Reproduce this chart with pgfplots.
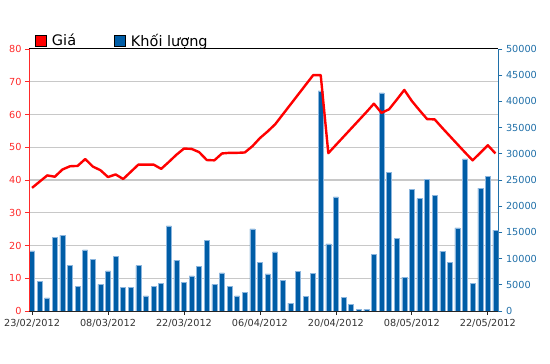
\documentclass[border=0pt]{standalone}
\usepackage{pgfplots}
\pgfplotsset{compat=1.18}
\usepackage{fontspec}
\setmainfont{DejaVu Sans}
\definecolor{barblue}{HTML}{005DA6}
\definecolor{baredge}{HTML}{8CB6DE}
\definecolor{axblue}{HTML}{1F6FA8}
\definecolor{axred}{HTML}{FF2A2A}
\definecolor{gridgray}{HTML}{C8C8C8}
\pgfplotsset{
  common/.style={
    at={(29pt,53pt)}, anchor=south west,
    scale only axis, width=469.5pt, height=262pt,
    xmin=-0.4, xmax=61.4,
    /pgf/number format/assume math mode=true,
    /pgf/number format/1000 sep={},
    scaled y ticks=false,
    tick label style={font=\fontsize{9.7}{11}\selectfont},
    tick align=outside,
    major tick length=4pt,
  }
}
\begin{document}
\begin{tikzpicture}
\useasboundingbox (0,0) rectangle (550pt,364pt);
% volume bars (right axis)
\begin{axis}[common,
  ymin=0, ymax=50000,
  axis y line*=right, axis x line*=bottom,
  ytick={0,5000,...,50000},
  yticklabel style={text=axblue},
  y axis line style={axblue, line width=0.8pt},
  ytick style={axblue, line width=0.8pt},
  xtick={0,10,...,60},
  xticklabels={23/02/2012,08/03/2012,22/03/2012,06/04/2012,20/04/2012,08/05/2012,22/05/2012},
  xticklabel style={text=black!80, yshift=-1pt},
  x axis line style={black!85, line width=0.8pt},
  xtick style={black!85, line width=0.8pt},
  extra y ticks={6250,12500,18750,25000,31250,37500,43750},
  extra y tick labels={},
  extra y tick style={grid=major, major tick length=0pt, major grid style={gridgray, line width=1.2pt}},
]
\addplot[ybar, bar width=5pt, bar shift=0pt, fill=barblue, draw=baredge, line width=0.5pt] coordinates {
(0,11480) (1,5676) (2,2490) (3,14094) (4,14477) (5,8673) (6,4719) (7,11671) (8,9885) (9,5102)
(10,7653) (11,10459) (12,4464) (13,4464) (14,8673) (15,2870) (16,4719) (17,5293) (18,16263) (19,9694)
(20,5485) (21,6696) (22,8546) (23,13520) (24,5102) (25,7270) (26,4719) (27,2870) (28,3508) (29,15689)
(30,9311) (31,7079) (32,11288) (33,5880) (34,1500) (35,7620) (36,2860) (37,7240) (38,42000) (39,12830)
(40,21800) (41,2670) (42,1270) (43,320) (44,320) (45,10860) (46,41650) (47,26400) (48,13800) (49,6450)
(50,23200) (51,21460) (52,25100) (53,22000) (54,11430) (55,9270) (56,15840) (57,29050) (58,5270) (59,23430)
(60,25670) (61,15430)
};
\end{axis}
% price line (left axis)
\begin{axis}[common,
  ymin=0, ymax=80,
  axis y line*=left, axis x line*=top,
  xtick=\empty,
  x axis line style={black, line width=1pt},
  ytick={0,10,...,80},
  yticklabel style={text=axred},
  y axis line style={axred, line width=0.9pt},
  ytick style={axred, line width=0.8pt},
  legend style={at={(0,1)}, anchor=south west, xshift=5pt, yshift=-2pt, draw=none, fill=none,
    legend columns=2, font=\fontsize{14.5}{16}\selectfont, inner sep=1pt,
    /tikz/every odd column/.append style={column sep=3pt},
    /tikz/every even column/.append style={column sep=36pt}},
  legend image code/.code={\draw[draw=black, line width=0.8pt, #1] (0pt,-5.5pt) rectangle (11pt,5.5pt);},
]
\addlegendimage{fill=red}
\addlegendentry{Giá}
\addlegendimage{fill=barblue}
\addlegendentry{Khối lượng}
\addplot[red, line width=2.4pt, line join=round, forget plot] coordinates {
(0,37.6) (1,39.5) (2,41.4) (3,41.0) (4,43.2) (5,44.2) (6,44.3) (7,46.4) (8,44.1) (9,43.0)
(10,40.9) (11,41.7) (12,40.3) (13,42.5) (14,44.7) (15,44.7) (16,44.7) (17,43.4) (18,45.5) (19,47.7)
(20,49.6) (21,49.5) (22,48.5) (23,46.1) (24,46.0) (25,48.1) (26,48.3) (27,48.3) (28,48.4) (29,50.3)
(30,52.8) (31,54.8) (32,57.0) (33,60.0) (34,63.0) (35,66.0) (36,69.0) (37,72.0) (38,72.0) (39,48.2)
(40,50.7) (41,53.2) (42,55.7) (43,58.2) (44,60.7) (45,63.3) (46,60.5) (47,61.6) (48,64.5) (49,67.5)
(50,64.1) (51,61.3) (52,58.6) (53,58.5) (54,55.9) (55,53.4) (56,50.9) (57,48.4) (58,46.0) (59,48.3)
(60,50.6) (61,48.1)
};
\end{axis}
\end{tikzpicture}
\end{document}
